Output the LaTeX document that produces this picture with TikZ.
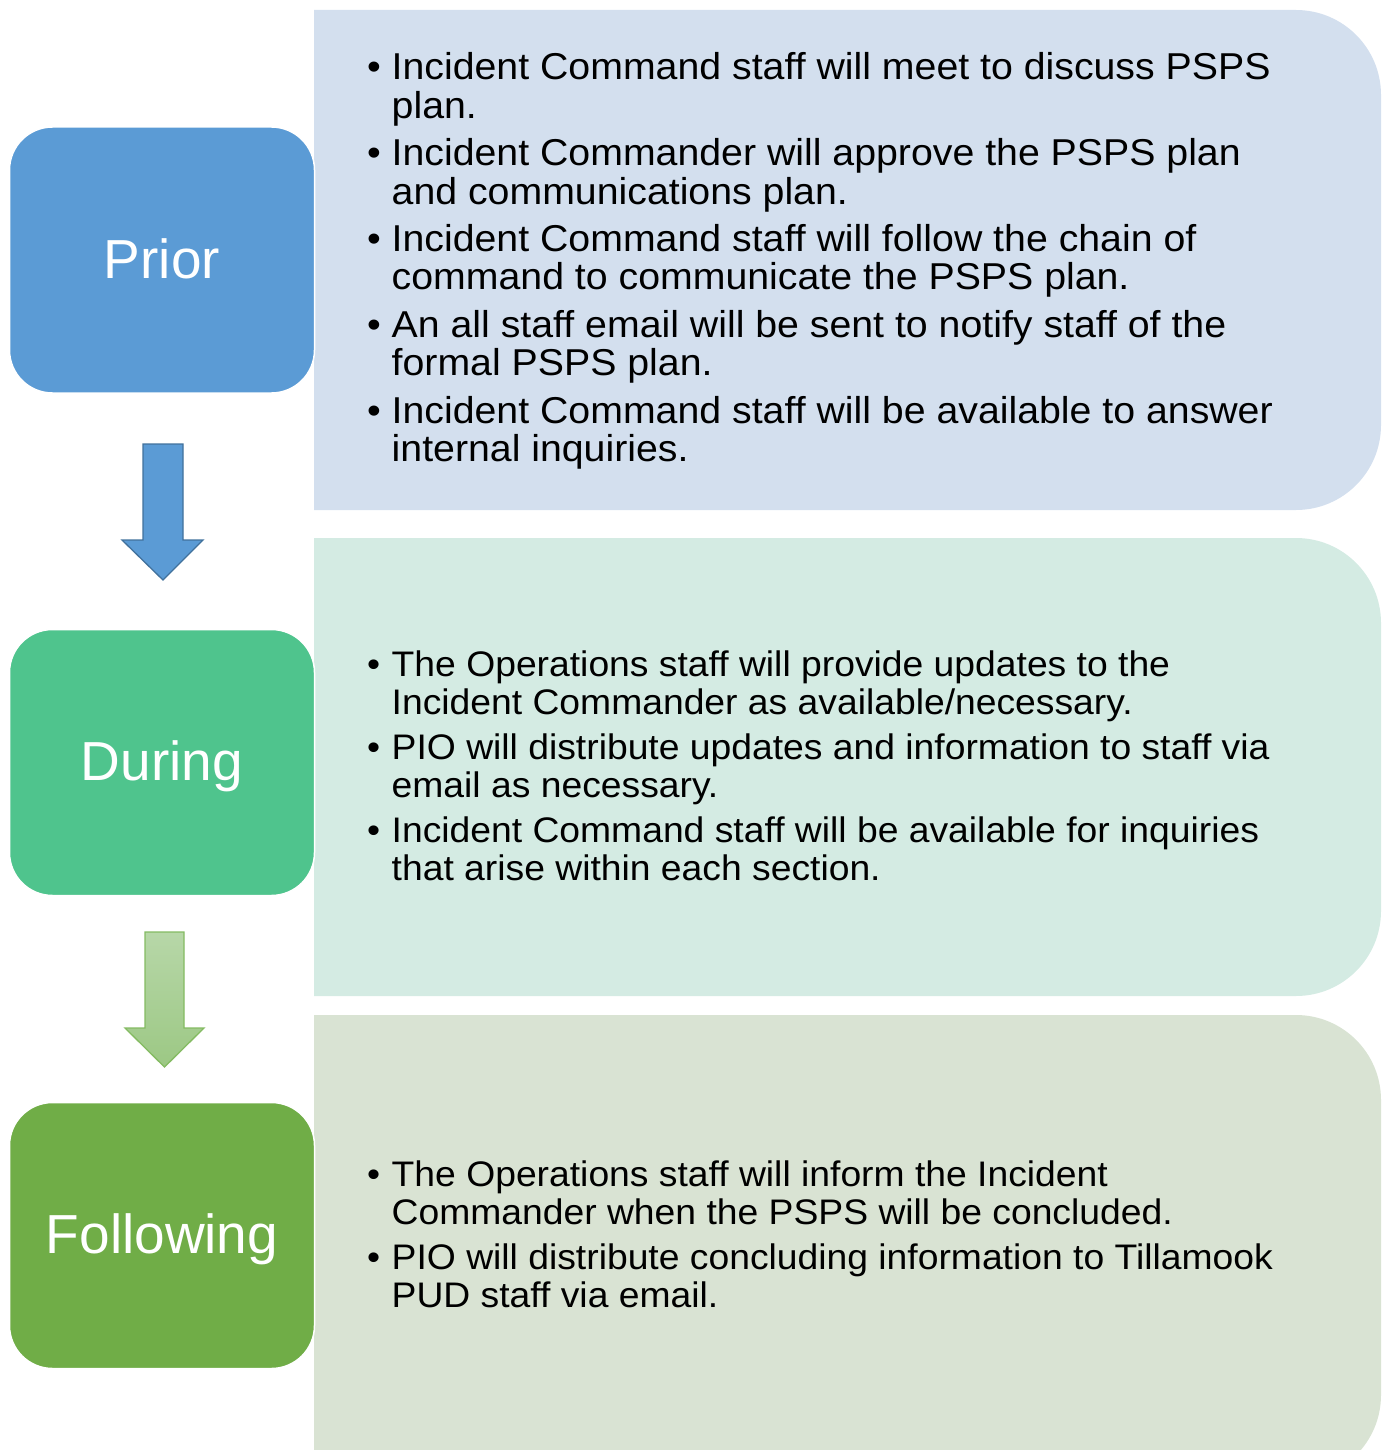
\documentclass[tikz,border=0pt]{standalone}
\usepackage{fontspec}
\setmainfont{Liberation Sans}
\newfontfamily\bodyfont[FakeStretch=1.05]{Liberation Sans}
\definecolor{priorblue}{HTML}{5B9BD5}
\definecolor{duringgreen}{HTML}{4FC48D}
\definecolor{followgreen}{HTML}{70AD47}
\definecolor{panelone}{HTML}{D3DFEE}
\definecolor{paneltwo}{HTML}{D4EBE3}
\definecolor{panelthree}{HTML}{D9E3D3}
\definecolor{arrowblueline}{HTML}{41719C}
\definecolor{arrowgreentop}{HTML}{B7D7A8}
\definecolor{arrowgreenbot}{HTML}{9CC884}
\definecolor{arrowgreenline}{HTML}{84BB62}
\tikzset{
  phasebox/.style={draw=white, line width=1.5pt, rounded corners=43pt,
    minimum width=305pt, minimum height=266pt, inner sep=0pt,
    text=white, font=\fontsize{55pt}{60pt}\selectfont,
    text height=40pt, text depth=4pt},
  itemtext/.style={anchor=base west, inner sep=0pt, text=black,
    font=\bodyfont\fontsize{37.4pt}{38.5pt}\selectfont},
  itemsmall/.style={itemtext, font=\bodyfont\fontsize{35.5pt}{38pt}\selectfont},
}
\newcommand{\bulletitem}[2]{\makebox[24.5pt][l]{•}\parbox[t]{980pt}{\raggedright #1\\#2}}
\begin{document}
\begin{tikzpicture}[x=1pt,y=1pt]
\useasboundingbox (0,0) rectangle (1382,-1450);
\clip (0,0) rectangle (1382,-1450);
% right panels
\fill[panelone] (314,-10) -- (1296,-10) arc[start angle=90,end angle=0,radius=85]
  -- (1381,-425) arc[start angle=0,end angle=-90,radius=85] -- (314,-510) -- cycle;
\fill[paneltwo] (314,-538) -- (1296,-538) arc[start angle=90,end angle=0,radius=85]
  -- (1381,-911) arc[start angle=0,end angle=-90,radius=85] -- (314,-996) -- cycle;
\fill[panelthree] (314,-1015) -- (1296,-1015) arc[start angle=90,end angle=0,radius=85]
  -- (1381,-1395) arc[start angle=0,end angle=-90,radius=85] -- (314,-1480) -- cycle;
% phase boxes
\node[phasebox, fill=priorblue] (prior) at (162,-260) {Prior};
\node[phasebox, fill=duringgreen] (during) at (162,-762.5) {During};
\node[phasebox, fill=followgreen] (following) at (162,-1235.5) {Following};
% block arrows
\draw[fill=priorblue, draw=arrowblueline, line width=1.3pt, line join=miter]
  (143,-444) -- (183,-444) -- (183,-540) -- (203,-540) -- (163,-580)
  -- (122,-540) -- (143,-540) -- cycle;
\draw[top color=arrowgreentop, bottom color=arrowgreenbot, draw=arrowgreenline, line width=1.3pt, line join=miter]
  (145,-932) -- (184,-932) -- (184,-1028) -- (204,-1028) -- (164.5,-1067)
  -- (125,-1028) -- (145,-1028) -- cycle;
% panel 1 text
\node[itemtext] (p1) at (367,-80) {\bulletitem{Incident Command staff will meet to discuss PSPS}{plan.}};
\node[itemtext] (p2) at (367,-166) {\bulletitem{Incident Commander will approve the PSPS plan}{and communications plan.}};
\node[itemtext] (p3) at (367,-251) {\bulletitem{Incident Command staff will follow the chain of}{command to communicate the PSPS plan.}};
\node[itemtext] (p4) at (367,-337) {\bulletitem{An all staff email will be sent to notify staff of the}{formal PSPS plan.}};
\node[itemtext] (p5) at (367,-423) {\bulletitem{Incident Command staff will be available to answer}{internal inquiries.}};
% panel 2 text
\node[itemsmall] (d1) at (367,-676) {\bulletitem{The Operations staff will provide updates to the}{Incident Commander as available/necessary.}};
\node[itemsmall] (d2) at (367,-759) {\bulletitem{PIO will distribute updates and information to staff via}{email as necessary.}};
\node[itemsmall] (d3) at (367,-842) {\bulletitem{Incident Command staff will be available for inquiries}{that arise within each section.}};
% panel 3 text
\node[itemsmall] (f1) at (367,-1186) {\bulletitem{The Operations staff will inform the Incident}{Commander when the PSPS will be concluded.}};
\node[itemsmall] (f2) at (367,-1269) {\bulletitem{PIO will distribute concluding information to Tillamook}{PUD staff via email.}};
\end{tikzpicture}
\end{document}
